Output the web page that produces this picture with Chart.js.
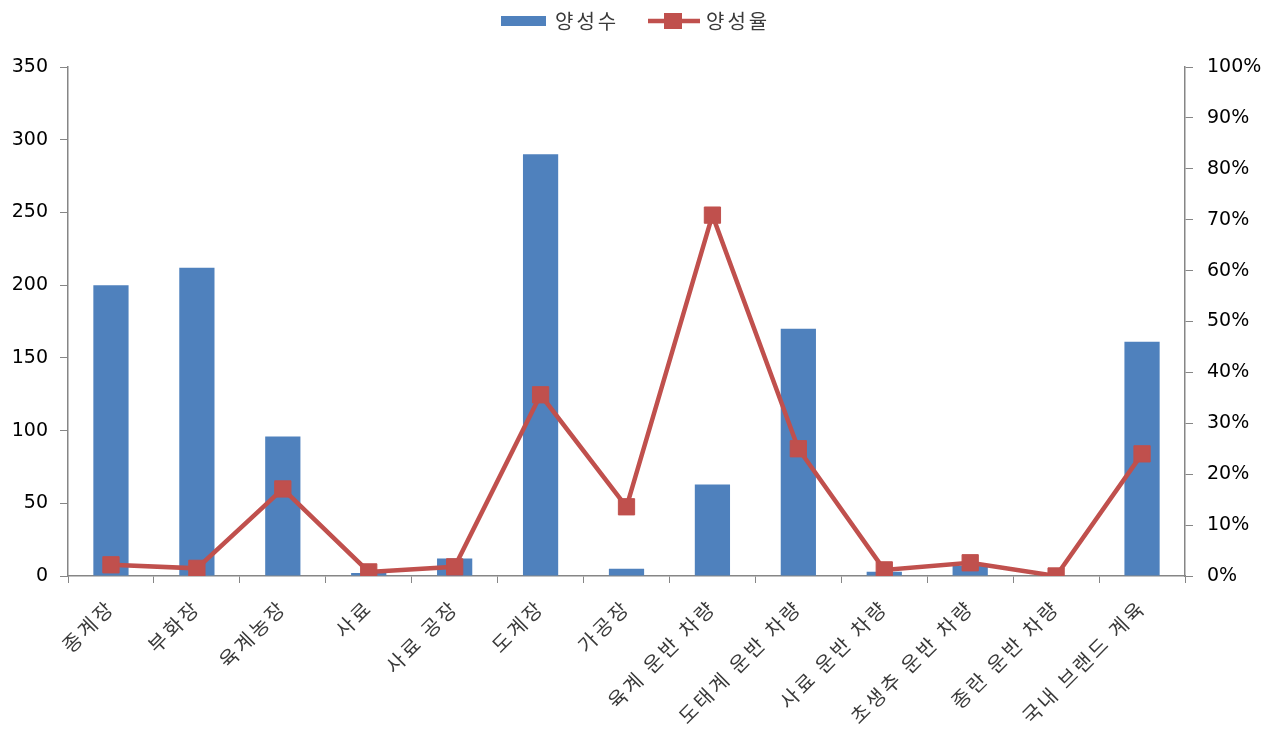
<!DOCTYPE html>
<html>
<head>
<meta charset="utf-8">
<script src="https://cdn.jsdelivr.net/npm/chart.js@4"></script>
<style>
  html, body { margin: 0; padding: 0; background: #fff; }
  #wrap { width: 1273px; height: 740px; }
</style>
</head>
<body>
<div id="wrap"><canvas id="chart" width="1273" height="740"></canvas></div>
<script>
// 카테고리와 값
const categories = ['종계장', '부화장', '육계농장', '사료', '사료 공장', '도계장', '가공장',
    '육계 운반 차량', '도태계 운반 차량', '사료 운반 차량', '초생추 운반 차량', '종란 운반 차량', '국내 브랜드 계육'];
const positiveCount = [200, 212, 96, 2, 12, 290, 5, 63, 170, 3, 7, 0, 161];
const positiveRate = [2.2, 1.5, 17.1, 0.8, 1.8, 35.6, 13.6, 70.9, 25.0, 1.2, 2.6, 0, 24.0];
const seriesNames = ['양성수', '양성율'];

const colors = {
    bar: '#4F81BD',
    line: '#C0504D',
    axis: '#868686',
    text: '#3a3a3a'
};

const numFont = { family: '"DejaVu Sans", Verdana, sans-serif', size: 19 };
const krFont = { family: '"Noto Sans CJK KR", sans-serif', size: 20 };
const krSpacing = '3px';

// 엑셀 스타일 범례
const legendPlugin = {
    id: 'topLegend',
    afterLayout(chart) {
        // x축 한글 라벨에 자간 적용
        const xScale = chart.scales.x;
        if (xScale && !xScale._spaced) {
            const base = Object.getPrototypeOf(xScale).drawLabels;
            xScale.drawLabels = function (area) {
                const ctx = this.ctx;
                ctx.save();
                ctx.letterSpacing = krSpacing;
                base.call(this, area);
                ctx.restore();
            };
            xScale._spaced = true;
        }
    },
    afterDraw(chart) {
        const ctx = chart.ctx;
        ctx.save();
        const y = 21;
        ctx.fillStyle = colors.bar;
        ctx.fillRect(501, y - 5, 45, 10);
        ctx.font = `${krFont.size}px ${krFont.family}`;
        ctx.letterSpacing = krSpacing;
        ctx.fillStyle = colors.text;
        ctx.textBaseline = 'middle';
        ctx.fillText(seriesNames[0], 555, y);

        ctx.strokeStyle = colors.line;
        ctx.lineWidth = 4.5;
        ctx.beginPath();
        ctx.moveTo(648, y);
        ctx.lineTo(700, y);
        ctx.stroke();
        ctx.fillStyle = colors.line;
        ctx.fillRect(664, y - 8, 18, 16);
        ctx.fillStyle = colors.text;
        ctx.fillText(seriesNames[1], 706, y);
        ctx.restore();
    }
};

new Chart(document.getElementById('chart'), {
    data: {
        labels: categories,
        datasets: [
            {
                type: 'line',
                label: seriesNames[1],
                data: positiveRate,
                yAxisID: 'y1',
                borderColor: colors.line,
                backgroundColor: colors.line,
                borderWidth: 4.5,
                tension: 0,
                pointStyle: 'rect',
                pointRadius: 11.5,
                pointBorderWidth: 1,
                pointBorderColor: colors.line,
                pointBackgroundColor: colors.line,
                order: 0
            },
            {
                type: 'bar',
                label: seriesNames[0],
                data: positiveCount,
                yAxisID: 'y',
                backgroundColor: colors.bar,
                categoryPercentage: 1,
                barPercentage: 0.41,
                order: 1
            }
        ]
    },
    plugins: [legendPlugin],
    options: {
        responsive: false,
        animation: false,
        layout: { padding: { top: 67, left: 0, right: 0, bottom: 0 } },
        plugins: {
            legend: { display: false },
            tooltip: { enabled: false }
        },
        scales: {
            x: {
                offset: true,
                grid: { offset: true, drawOnChartArea: false, drawTicks: true, tickLength: 7, color: colors.axis },
                border: { display: true, color: colors.axis, width: 1.5 },
                ticks: { color: colors.text, font: krFont, minRotation: 45, maxRotation: 45, padding: 12, autoSkip: false },
                afterFit(scale) { scale.height = 164; }
            },
            y: {
                position: 'left',
                min: 0,
                max: 350,
                ticks: { stepSize: 50, color: '#000', font: numFont, padding: 12 },
                grid: { drawOnChartArea: false, drawTicks: true, tickLength: 8, color: colors.axis },
                border: { display: true, color: colors.axis, width: 1.5 },
                afterFit(scale) { scale.width = 68; }
            },
            y1: {
                position: 'right',
                min: 0,
                max: 100,
                ticks: { stepSize: 10, color: '#000', font: numFont, padding: 14, callback: v => v + '%' },
                grid: { drawOnChartArea: false, drawTicks: true, tickLength: 8, color: colors.axis },
                border: { display: true, color: colors.axis, width: 1.5 },
                afterFit(scale) { scale.width = 88; }
            }
        }
    }
});
</script>
</body>
</html>
